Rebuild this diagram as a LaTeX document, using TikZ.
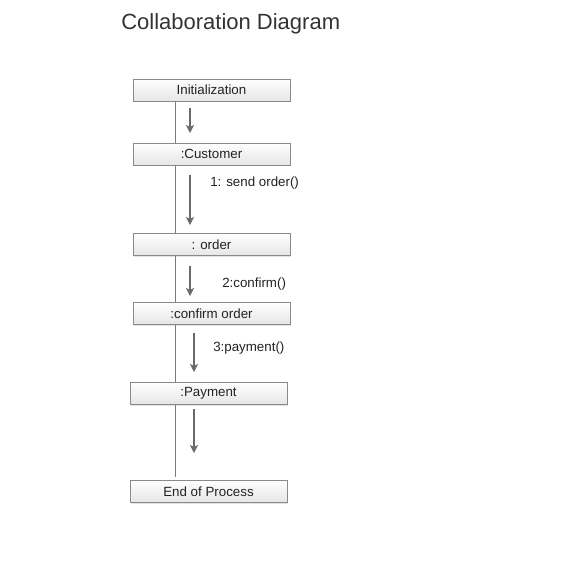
\documentclass[tikz,border=0pt]{standalone}
\usepackage{fontspec}
\setmainfont{Liberation Sans}
\usetikzlibrary{arrows.meta,shadows}
\definecolor{boxline}{HTML}{8A8A8A}
\definecolor{arrowgray}{HTML}{6A6A6A}
\definecolor{linegray}{HTML}{7A7A7A}
\definecolor{txtgray}{HTML}{222222}
\tikzset{
  objbox/.style={draw=boxline, line width=0.7pt, top color=white, bottom color=black!10,
    minimum width=117.75pt, minimum height=16.5pt, inner sep=0pt,
    font=\fontsize{10}{12}\selectfont, text=txtgray,
    drop shadow={shadow xshift=1pt, shadow yshift=-1pt, opacity=0.22}},
  msg/.style={draw=arrowgray, line width=0.9pt, -{Stealth[width=6pt,length=6pt,inset=1.5pt]}},
  lifeline/.style={draw=linegray, line width=0.75pt},
  msglabel/.style={anchor=west, inner sep=0pt, font=\fontsize{10}{12}\selectfont, text=txtgray}
}
\begin{document}
\begin{tikzpicture}[x=0.75pt,y=-0.75pt]
\useasboundingbox (0,0) rectangle (563,572);

% Title
\node[anchor=west, inner sep=0pt, font=\fontsize{16.5}{20}\selectfont, text=black!80] (title) at (121,23.5) {Collaboration Diagram};

% Objects
\node[objbox] (init) at (211.5,90) {Initialization};
\node[objbox] (cust) at (211.5,154) {:Customer};
\node[objbox] (ord) at (211.5,244.5) {: order};
\node[objbox] (conf) at (211.5,313.5) {:confirm order};
\node[objbox] (pay) at (208.5,393.5) {:Payment};
\node[objbox] (endp) at (208.5,491.5) {End of Process};

% Lifeline
\coordinate (lx) at (175,0);
\draw[lifeline] (init.south -| lx) -- (cust.north -| lx);
\draw[lifeline] (cust.south -| lx) -- (ord.north -| lx);
\draw[lifeline] (ord.south -| lx) -- (conf.north -| lx);
\draw[lifeline] (conf.south -| lx) -- (pay.north -| lx);
\draw[lifeline] (pay.south -| lx) -- ([yshift=2.5pt]endp.north -| lx);

% Messages
\coordinate (m0s) at (190,108); \coordinate (m0e) at (190,133);
\coordinate (m1s) at (190,175); \coordinate (m1e) at (190,225);
\coordinate (m2s) at (190,266); \coordinate (m2e) at (190,296);
\coordinate (m3s) at (194,333); \coordinate (m3e) at (194,372);
\coordinate (m4s) at (194,409); \coordinate (m4e) at (194,453);
\draw[msg] (m0s) -- (m0e);
\draw[msg] (m1s) -- (m1e);
\draw[msg] (m2s) -- (m2e);
\draw[msg] (m3s) -- (m3e);
\draw[msg] (m4s) -- (m4e);

% Labels
\node[msglabel] (l1) at (210,183.5) {1: send order()};
\node[msglabel] (l2) at (222,284.5) {2:confirm()};
\node[msglabel] (l3) at (213,348.5) {3:payment()};
\end{tikzpicture}
\end{document}
